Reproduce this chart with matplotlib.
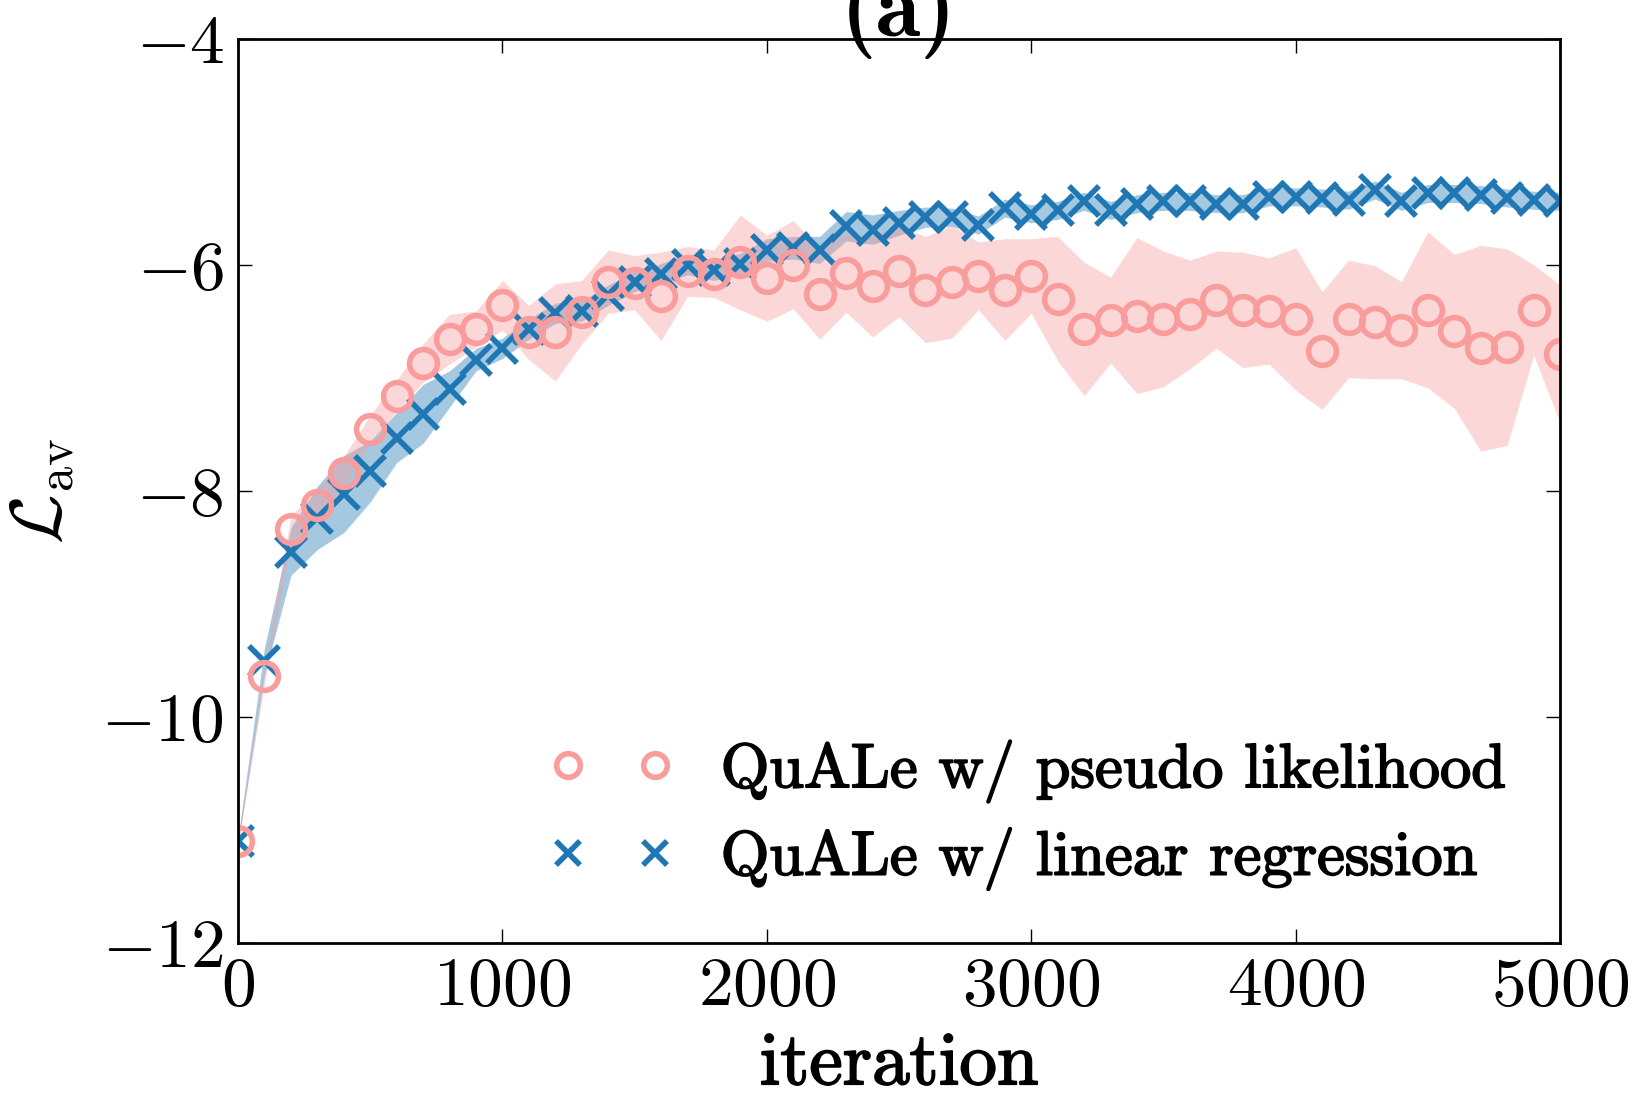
import numpy as np
import matplotlib
matplotlib.use("Agg")
import matplotlib.pyplot as plt
import matplotlib.patheffects as pe

# -----------------------------
# DATA
# -----------------------------
iterations = list(range(0, 5001, 100))

pseudo_mean = [-11.10, -9.64, -8.34, -8.13, -7.84, -7.45, -7.16, -6.87, -6.66, -6.57,
               -6.36, -6.60, -6.60, -6.42, -6.15, -6.16, -6.28, -6.06, -6.08, -5.98,
               -6.12, -6.00, -6.26, -6.07, -6.19, -6.06, -6.22, -6.15, -6.10, -6.22,
               -6.10, -6.30, -6.57, -6.49, -6.45, -6.48, -6.44, -6.31, -6.40, -6.41,
               -6.48, -6.76, -6.48, -6.51, -6.58, -6.40, -6.59, -6.74, -6.73, -6.40,
               -6.79]
pseudo_std = [0.03, 0.07, 0.12, 0.14, 0.14, 0.12, 0.14, 0.17, 0.22, 0.16,
              0.22, 0.24, 0.43, 0.28, 0.28, 0.24, 0.39, 0.22, 0.21, 0.42,
              0.38, 0.39, 0.40, 0.35, 0.45, 0.40, 0.47, 0.50, 0.30, 0.45,
              0.33, 0.55, 0.59, 0.38, 0.69, 0.60, 0.48, 0.43, 0.51, 0.47,
              0.63, 0.52, 0.52, 0.50, 0.43, 0.69, 0.68, 0.91, 0.87, 0.40,
              0.61]

linreg_mean = [-11.10, -9.51, -8.54, -8.24, -8.03, -7.83, -7.53, -7.32, -7.10, -6.84,
               -6.74, -6.57, -6.43, -6.41, -6.27, -6.15, -6.08, -6.00, -6.05, -5.99,
               -5.87, -5.85, -5.87, -5.66, -5.69, -5.63, -5.58, -5.58, -5.65, -5.50,
               -5.55, -5.52, -5.44, -5.52, -5.46, -5.44, -5.44, -5.46, -5.46, -5.40,
               -5.40, -5.41, -5.43, -5.34, -5.44, -5.37, -5.37, -5.38, -5.41, -5.43,
               -5.44]
linreg_std = [0.03, 0.12, 0.21, 0.28, 0.34, 0.27, 0.22, 0.26, 0.16, 0.10,
              0.09, 0.09, 0.09, 0.09, 0.09, 0.09, 0.09, 0.09, 0.09, 0.09,
              0.10, 0.10, 0.12, 0.13, 0.13, 0.11, 0.09, 0.08, 0.08, 0.08,
              0.08, 0.08, 0.08, 0.08, 0.08, 0.08, 0.08, 0.08, 0.08, 0.08,
              0.08, 0.08, 0.08, 0.08, 0.08, 0.08, 0.08, 0.08, 0.08, 0.08,
              0.08]

labels = ["QuALe w/ pseudo likelihood", "QuALe w/ linear regression"]
pink = "#f99c9c"
blue = "#1f77b4"

# -----------------------------
# STYLE
# -----------------------------
plt.rcParams["font.family"] = "serif"
plt.rcParams["font.serif"] = ["cmr10"]
plt.rcParams["mathtext.fontset"] = "cm"
plt.rcParams["axes.formatter.use_mathtext"] = True
plt.rcParams["axes.unicode_minus"] = True

# slightly heavier strokes for the labels, like the original
heavy = [pe.withStroke(linewidth=1.3, foreground="black")]

x = np.array(iterations)
pm, ps = np.array(pseudo_mean), np.array(pseudo_std)
lm, ls = np.array(linreg_mean), np.array(linreg_std)

fig = plt.figure(figsize=(16.37, 10.97), dpi=100)
ax = fig.add_axes([0.1454, 0.1406, 0.8076, 0.8242])

# blue first, pink band on top (blue crosses look grey under it)
ax.fill_between(x, lm - ls, lm + ls, color=blue, alpha=0.4, lw=0)
ax.plot(x, lm, "x", color=blue, ms=21, mew=4.0, label=labels[1])
ax.fill_between(x, pm - ps, pm + ps, color=pink, alpha=0.4, lw=0)
ax.plot(x, pm, "o", mfc="none", mec=pink, ms=20, mew=4.0, label=labels[0])

ax.set_xlim(0, 5000)
ax.set_ylim(-12, -4)
ax.set_xticks([0, 1000, 2000, 3000, 4000, 5000])
ax.set_yticks([-12, -10, -8, -6, -4])
ax.tick_params(direction="in", top=True, right=True, length=10, width=1,
               labelsize=50, pad=10)
for sp in ax.spines.values():
    sp.set_linewidth(2)

ax.set_xlabel("iteration", fontsize=54, labelpad=10, path_effects=heavy)
ax.set_ylabel(r"$\mathcal{L}_{\rm av}$", fontsize=52, labelpad=18)
ax.set_title("(a)", family="cmb10", fontsize=66, pad=2)

h, l = ax.get_legend_handles_labels()
leg = ax.legend([h[1], h[0]], [l[1], l[0]], loc="lower right",
                bbox_to_anchor=(0.978, 0.03), frameon=False,
                numpoints=2, markerscale=0.85, fontsize=45,
                handlelength=2.0, handletextpad=0.75, labelspacing=0.4,
                borderaxespad=0.0)
for t in leg.get_texts():
    t.set_path_effects(heavy)

fig.savefig("out.png", dpi=100)
